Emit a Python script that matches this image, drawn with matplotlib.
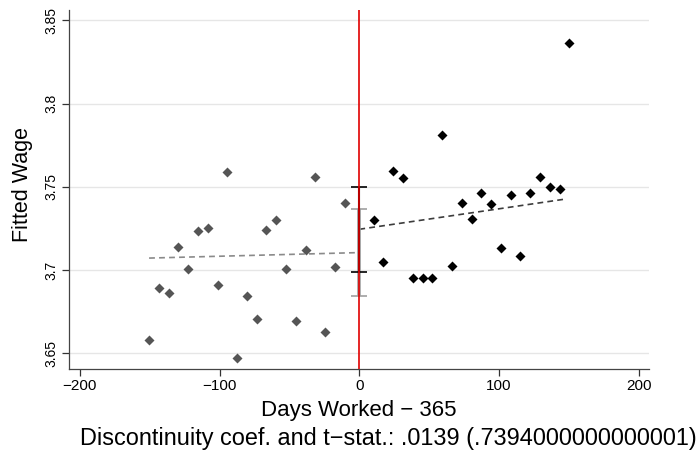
import numpy as np
import matplotlib
matplotlib.use("Agg")
import matplotlib.pyplot as plt

plt.rcParams['font.family'] = ['Liberation Sans', 'DejaVu Sans']

# binned means, left of the cutoff
days_left = [-150.5, -143.5, -136.5, -129.5, -122.5, -115.5, -108.5, -101.5, -94.5, -87.5,
             -80.5, -73.5, -66.5, -59.5, -52.5, -45.5, -38.5, -31.5, -24.5, -17.5, -10.5]
wage_left = [3.6578, 3.6894, 3.6864, 3.7138, 3.7006, 3.7235, 3.7253, 3.6910, 3.7590, 3.6470,
             3.6844, 3.6704, 3.7240, 3.7300, 3.7008, 3.6694, 3.7120, 3.7557, 3.6626, 3.7017, 3.7405]

# binned means, right of the cutoff
days_right = [10.3, 17.3, 24.3, 31.3, 38.3, 45.3, 52.3, 59.3, 66.3, 73.3,
              80.3, 87.3, 94.3, 101.3, 108.3, 115.3, 122.3, 129.3, 136.3, 143.3, 150.3]
wage_right = [3.7299, 3.7047, 3.7595, 3.7551, 3.6954, 3.6954, 3.6954, 3.7813, 3.7022, 3.7405,
              3.7305, 3.7465, 3.7399, 3.7134, 3.7453, 3.7083, 3.7465, 3.7557, 3.7499, 3.7487, 3.8364]

# linear fits on each side
fit_left_x = [-150.5, 0]
fit_left_y = [3.7072, 3.7105]
fit_right_x = [0, 148]
fit_right_y = [3.7245, 3.7427]

# confidence intervals at the cutoff
ci_left = [3.6844, 3.7367]
ci_right = [3.6990, 3.7500]

xticks = [-200, -100, 0, 100, 200]
yticks = [3.65, 3.7, 3.75, 3.8, 3.85]
ytick_labels = ['3.65', '3.7', '3.75', '3.8', '3.85']

fig = plt.figure(figsize=(6.98, 4.66), dpi=100)
ax = fig.add_axes([0.0989, 0.2082, 0.8310, 0.7704])

for y in yticks:
    ax.axhline(y, color='#e6e6e6', lw=1.0, zorder=0)

ax.plot(days_left, wage_left, 'D', color='#555555', ms=5.5, mec='none', zorder=3)
ax.plot(days_right, wage_right, 'D', color='black', ms=5.5, mec='none', zorder=3)

ax.plot(fit_left_x, fit_left_y, ls=(0, (3.5, 2.5)), color='#8a8a8a', lw=1.2, zorder=2)
ax.plot(fit_right_x, fit_right_y, ls=(0, (3.5, 2.5)), color='#3c3c3c', lw=1.2, zorder=2)

mid_l = (ci_left[0] + ci_left[1]) / 2
mid_r = (ci_right[0] + ci_right[1]) / 2
ax.errorbar([0], [mid_l], yerr=[[mid_l - ci_left[0]], [ci_left[1] - mid_l]], fmt='none',
            ecolor='#a0a0a0', elinewidth=2.6, capsize=5.5, capthick=1.2, zorder=4)
ax.errorbar([0], [mid_r], yerr=[[mid_r - ci_right[0]], [ci_right[1] - mid_r]], fmt='none',
            ecolor='black', elinewidth=1.5, capsize=5.5, capthick=1.2, zorder=5)
ax.axvline(0, color='#e00000', lw=1.2, zorder=6)

ax.set_xlim(-207.8, 207.4)
ax.set_ylim(3.6406, 3.8562)
ax.set_xticks(xticks)
ax.set_yticks(yticks)
ax.set_yticklabels(ytick_labels, rotation=90, va='center')
ax.tick_params(axis='both', length=5, width=0.9, color='#333333')
ax.tick_params(axis='y', pad=3, labelsize=10)
ax.tick_params(axis='x', pad=2, labelsize=11)

for s in ['top', 'right']:
    ax.spines[s].set_visible(False)
for s in ['left', 'bottom']:
    ax.spines[s].set_color('#444444')
    ax.spines[s].set_linewidth(0.9)

fig.text(359 / 698, 1 - 415.7 / 466, 'Days Worked − 365', ha='center', va='baseline', fontsize=16)
fig.text(23 / 698, 1 - 185 / 466, 'Fitted Wage', ha='center', va='center', rotation=90, fontsize=15.5)
fig.text(80 / 698, 1 - 445 / 466, 'Discontinuity coef. and t−stat.: .0139 (.7394000000000001)',
         ha='left', va='baseline', fontsize=16.9)

fig.savefig('out.png', dpi=100)
